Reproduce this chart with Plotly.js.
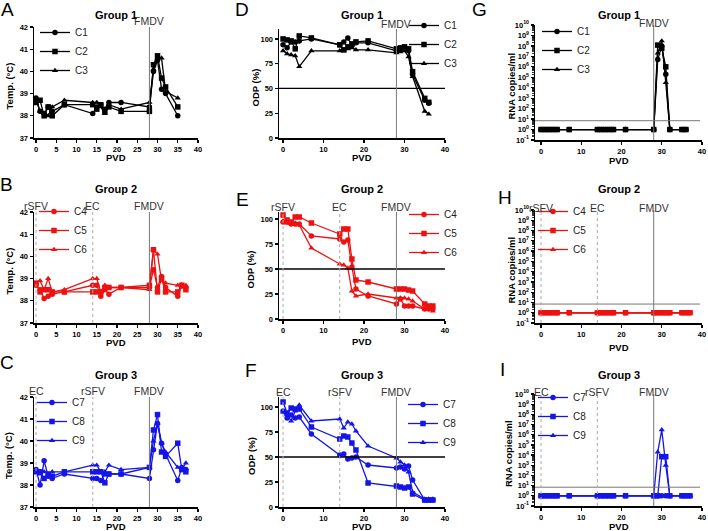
<!DOCTYPE html>
<html>
<head>
<meta charset="utf-8">
<script src="https://cdn.plot.ly/plotly-3.0.1.min.js"></script>
<style>
  html, body { margin: 0; padding: 0; background: #fff; }
  #chart { width: 708px; height: 531px; }
</style>
</head>
<body>
<div id="chart"></div>
<script>
// --- Data ---
const daysG1Temp = [0, 1, 2, 3, 4, 7, 14, 15, 16, 17, 18, 21, 28, 29, 30, 31, 32, 35];
const daysG1 = [0, 1, 2, 3, 4, 7, 14, 15, 16, 17, 18, 21, 28, 29, 30, 31, 32, 35, 36];
const daysG23 = [0, 1, 2, 3, 4, 7, 14, 15, 16, 17, 18, 21, 28, 29, 30, 31, 32, 35, 36, 37];

// Group 1
const tempC1 = [38.8, 38.2, 38.1, 38.4, 38.2, 38.5, 38.1, 38.4, 38.5, 38.3, 38.6, 38.6, 38.4, 40.0, 40.5, 39.2, 39.0, 38.0];
const tempC2 = [38.6, 38.7, 38.0, 38.4, 38.0, 38.5, 38.5, 38.3, 38.5, 38.2, 38.4, 38.2, 38.2, 40.3, 40.7, 39.7, 39.3, 38.4];
const tempC3 = [38.7, 38.2, 38.1, 38.0, 38.4, 38.7, 38.6, 38.6, 38.4, 38.1, 38.5, 38.3, 38.6, 40.1, 40.6, 40.6, 39.1, 38.8];
const odpC1 = [94, 91, 97, 97, 98, 100, 94, 97, 101, 93, 96, 96, 88, 89, 90, 88, 64, 38, 35];
const odpC2 = [100, 99, 98, 90, 103, 101, 94, 89, 92, 95, 97, 98, 90, 91, 92, 90, 67, 40, 36];
const odpC3 = [88, 85, 84, 83, 72, 88, 88, 88, 90, 91, 89, 89, 86, 87, 88, 82, 62, 27, 24];
const rnaC1 = [1, 1, 1, 1, 1, 1, 1, 1, 1, 1, 1, 1, 1, 5e6, 1e8, 2e5, 1, 1, 1];
const rnaC2 = [1, 1, 1, 1, 1, 1, 1, 1, 1, 1, 1, 1, 1, 1.2e8, 6e7, 1e6, 1, 1, 1];
const rnaC3 = [1, 1, 1, 1, 1, 1, 1, 1, 1, 1, 1, 1, 1, 2e7, 3e8, 3e4, 1, 1, 1];

// Group 2
const tempC4 = [38.7, 38.5, 38.1, 38.2, 38.3, 38.4, 38.7, 38.7, 38.2, 38.5, 38.3, 38.6, 38.6, 39.4, 38.6, 39.1, 38.6, 38.2, 38.7, 38.6];
const tempC5 = [38.8, 38.4, 38.5, 38.5, 38.4, 38.4, 38.4, 38.4, 38.4, 38.6, 38.6, 38.6, 38.7, 40.3, 38.4, 39.0, 38.4, 38.4, 38.7, 38.5];
const tempC6 = [38.8, 38.9, 38.5, 39.0, 38.4, 38.5, 39.0, 39.0, 38.4, 38.7, 38.6, 38.6, 38.5, 40.3, 40.1, 38.9, 38.8, 38.7, 38.6, 38.7];
const odpC4 = [97, 97, 95, 95, 95, 83, 80, 77, 79, 52, 30, 23, 15, 20, 13, 13, 13, 10, 10, 10];
const odpC5 = [104, 99, 97, 102, 102, 96, 85, 90, 90, 60, 39, 37, 30, 30, 30, 29, 28, 15, 13, 13];
const odpC6 = [98, 96, 96, 96, 94, 71, 55, 54, 51, 28, 23, 25, 21, 21, 21, 20, 18, 10, 10, 8];
const rnaC4 = [1, 1, 1, 1, 1, 1, 1, 1, 1, 1, 1, 1, 1, 1, 1, 1, 1, 1, 1, 1];
const rnaC5 = [1, 1, 1, 1, 1, 1, 1, 1, 1, 1, 1, 1, 1, 1, 1, 1, 1, 1, 1, 1];
const rnaC6 = [1, 1, 1, 1, 1, 1, 1, 1, 1, 1, 1, 1, 1, 1, 1, 1, 1, 1, 1, 1];

// Group 3
const tempC7 = [38.7, 38.0, 39.1, 38.4, 38.3, 38.5, 38.3, 38.3, 38.2, 38.5, 38.5, 38.5, 38.3, 39.6, 40.8, 39.9, 39.4, 38.2, 38.8, 38.7];
const tempC8 = [38.6, 38.6, 38.3, 38.5, 38.4, 38.6, 38.6, 38.6, 38.6, 38.1, 38.5, 38.5, 38.8, 40.5, 41.2, 39.5, 39.3, 39.9, 38.7, 38.6];
const tempC9 = [38.6, 38.5, 38.6, 38.5, 38.6, 38.6, 38.9, 38.9, 38.6, 38.6, 38.9, 38.7, 38.8, 40.0, 40.8, 39.9, 39.5, 38.8, 38.7, 39.0];
const odpC7 = [96, 89, 92, 89, 90, 73, 52, 53, 48, 49, 50, 42, 39, 40, 38, 41, 27, 7, 7, 7];
const odpC8 = [105, 94, 99, 98, 98, 80, 68, 71, 70, 64, 57, 24, 21, 20, 19, 20, 13, 7, 7, 7];
const odpC9 = [95, 93, 86, 96, 102, 86, 88, 79, 85, 83, 76, 61, 49, 45, 42, 35, 15, 8, 8, 8];
const rnaC7 = [1, 1, 1, 1, 1, 1, 1, 1, 1, 1, 1, 1, 1, 1, 1, 1, 1, 1, 1, 1];
const rnaC8 = [1, 1, 1, 1, 1, 1, 1, 1, 1, 1, 1, 1, 1, 1, 7e3, 7e3, 1, 1, 1, 1];
const rnaC9 = [1, 1, 1, 1, 1, 1, 1, 1, 1, 1, 1, 1, 1, 2e4, 3e6, 1e3, 1, 1, 1, 1];

// challenge / vaccination days and labels
const eventDaysG1 = [28];
const eventLabelsG1 = ['FMDV'];
const eventDaysG2 = [0, 14, 28];
const eventLabelsG2 = ['rSFV', 'EC', 'FMDV'];
const eventDaysG3 = [0, 14, 28];
const eventLabelsG3 = ['EC', 'rSFV', 'FMDV'];

const odpThreshold = 50;
const rnaThreshold = 1e7;
const rnaTickExp = [-1, 0, 1, 2, 3, 4, 5, 6, 7, 8, 9, 10];

// --- Styling / geometry ---
const W = 708, H = 531;
const FONT = 'Liberation Sans, Arial, sans-serif';
const SYMBOLS = ['circle', 'square', 'triangle-up'];

const groups = [
  { title: 'Group 1', color: '#000000', names: ['C1', 'C2', 'C3'], letters: ['A', 'D', 'G'],
    temp: [daysG1Temp, [tempC1, tempC2, tempC3]], odp: [daysG1, [odpC1, odpC2, odpC3]], rna: [daysG1, [rnaC1, rnaC2, rnaC3]],
    evDays: eventDaysG1, evLabels: eventLabelsG1 },
  { title: 'Group 2', color: '#ee1111', names: ['C4', 'C5', 'C6'], letters: ['B', 'E', 'H'],
    temp: [daysG23, [tempC4, tempC5, tempC6]], odp: [daysG23, [odpC4, odpC5, odpC6]], rna: [daysG23, [rnaC4, rnaC5, rnaC6]],
    evDays: eventDaysG2, evLabels: eventLabelsG2 },
  { title: 'Group 3', color: '#1515e8', names: ['C7', 'C8', 'C9'], letters: ['C', 'F', 'I'],
    temp: [daysG23, [tempC7, tempC8, tempC9]], odp: [daysG23, [odpC7, odpC8, odpC9]], rna: [daysG23, [rnaC7, rnaC8, rnaC9]],
    evDays: eventDaysG3, evLabels: eventLabelsG3 },
];

const KINDS = ['temp', 'odp', 'rna'];
const Y_TITLES = { temp: 'Temp. (°C)', odp: 'ODP (%)', rna: 'RNA copies/ml' };
const COL_PX = [[34, 198], [279, 445], [535, 702]];
const X_RANGE = [[-0.5, 40], [-1, 40], [-1.5, 40]];
const ROW_PX = {
  temp: [[27, 138], [212, 323], [397, 507]],
  odp: [[29, 138], [212, 319], [397, 507]],
  rna: [[25, 140], [210, 323], [394, 506]],
};
const ODP_TOP = [110, 107, 110];
const LEGEND_PX = [
  [[35, 18], [404, 11], [537, 17]],
  [[34, 197], [404, 200], [533, 197]],
  [[32, 388], [403, 390], [533, 383]],
];
const LETTER_PX = [
  [[7, 10], [242, 10], [479, 10]],
  [[6, 184], [243, 199], [505, 197]],
  [[7, 362], [251, 370], [502, 369]],
];
const TITLE_Y = [15, 189, 375];
const XTITLE_Y = [[157, 157, 160], [342, 341, 347], [526, 526, 526]];
const YTITLE_X = [[9, 255, 511], [9, 250, 511], [8, 251, 508]];
const EVENT_SHIFT = { temp: 6, odp: 5, rna: 2 };

const tickFont = { family: FONT, size: 7.5, color: '#000', weight: 'bold' };
const axTitleFont = { family: FONT, size: 9.5, color: '#000', weight: 'bold' };

const traces = [];
const layout = {
  width: W, height: H,
  margin: { l: 0, r: 0, t: 0, b: 0 },
  paper_bgcolor: '#fff',
  plot_bgcolor: 'rgba(0,0,0,0)',
  font: { family: FONT, color: '#000' },
  showlegend: true,
  shapes: [],
  annotations: [],
};

groups.forEach((g, row) => {
  KINDS.forEach((kind, col) => {
    const n = row * 3 + col + 1;
    const sfx = n === 1 ? '' : String(n);
    const xa = 'x' + sfx, ya = 'y' + sfx;
    const [days, series] = g[kind];
    const [px0, px1] = COL_PX[col];
    const [py0, py1] = ROW_PX[kind][row];

    series.forEach((vals, i) => {
      traces.push({
        x: days, y: vals,
        xaxis: xa, yaxis: ya,
        type: 'scatter', mode: 'lines+markers',
        name: g.names[i],
        legend: 'legend' + sfx,
        line: { color: g.color, width: 1.3 },
        marker: { symbol: SYMBOLS[i], size: 5.5, color: g.color },
        cliponaxis: false,
      });
    });

    layout['xaxis' + sfx] = {
      domain: [px0 / W, px1 / W],
      range: X_RANGE[col],
      anchor: ya,
      tick0: 0, dtick: col === 0 ? 5 : 10,
      ticks: 'outside', ticklen: 3, tickwidth: 1.3, tickcolor: '#000',
      showline: true, linewidth: 1.5, linecolor: '#000',
      showgrid: false, zeroline: false,
      tickfont: tickFont,
    };

    const yax = {
      domain: [1 - py1 / H, 1 - py0 / H],
      anchor: xa,
      ticks: 'outside', ticklen: 3, tickwidth: 1.3, tickcolor: '#000',
      showline: true, linewidth: 1.5, linecolor: '#000',
      showgrid: false, zeroline: false,
      tickfont: tickFont,
    };
    if (kind === 'temp') {
      Object.assign(yax, { range: [37, 42], tick0: 37, dtick: 1 });
    } else if (kind === 'odp') {
      Object.assign(yax, { range: [0, ODP_TOP[row]], tickmode: 'array', tickvals: [0, 25, 50, 75, 100] });
      layout.shapes.push({ type: 'line', xref: xa + ' domain', yref: ya, x0: 0, x1: 1,
        y0: odpThreshold, y1: odpThreshold, line: { color: '#000', width: 1.3 } });
    } else {
      Object.assign(yax, { type: 'log', range: [-1, 10], tickmode: 'array',
        tickvals: rnaTickExp.map(e => Math.pow(10, e)),
        ticktext: rnaTickExp.map(e => '10<sup>' + e + '</sup>'),
        minor: { ticks: 'outside', ticklen: 2, tickwidth: 0.8, tickcolor: '#000', dtick: 'D1' } });
      layout.shapes.push({ type: 'line', xref: xa, yref: ya, x0: -1.5, x1: 39.5,
        y0: Math.log10(rnaThreshold), y1: Math.log10(rnaThreshold), line: { color: '#777', width: 1 } });
    }
    layout['yaxis' + sfx] = yax;

    // axis titles
    layout.annotations.push({ xref: 'paper', yref: 'paper', x: (px0 + px1) / 2 / W, y: 1 - XTITLE_Y[row][col] / H,
      text: 'PVD', showarrow: false, xanchor: 'center', yanchor: 'middle', font: axTitleFont });
    layout.annotations.push({ xref: 'paper', yref: 'paper', x: YTITLE_X[row][col] / W, y: 1 - ((py0 + py1) / 2 + 4) / H,
      text: Y_TITLES[kind], textangle: -90, showarrow: false, xanchor: 'center', yanchor: 'middle', font: axTitleFont });

    // event lines + labels
    g.evDays.forEach((d, k) => {
      const isChallenge = g.evLabels[k] === 'FMDV';
      layout.shapes.push({ type: 'line', xref: xa, yref: ya + ' domain', x0: d, x1: d, y0: 0, y1: 1,
        line: isChallenge ? { color: '#777', width: 1 } : { color: '#aaa', width: 1, dash: 'dot' } });
      layout.annotations.push({ xref: xa, yref: ya + ' domain', x: d, y: 1, yshift: EVENT_SHIFT[kind],
        text: g.evLabels[k], showarrow: false, xanchor: 'center', yanchor: 'middle',
        font: { family: FONT, size: 10.5, color: '#333' } });
    });

    // group title
    layout.annotations.push({ xref: 'paper', yref: 'paper', x: (px0 + px1) / 2 / W, y: 1 - TITLE_Y[row] / H,
      text: g.title, showarrow: false, xanchor: 'center', yanchor: 'middle',
      font: { family: FONT, size: 11, color: '#000', weight: 'bold' } });

    // panel letter
    const [lx, ly] = LETTER_PX[row][col];
    layout.annotations.push({ xref: 'paper', yref: 'paper', x: lx / W, y: 1 - ly / H,
      text: g.letters[col], showarrow: false, xanchor: 'center', yanchor: 'middle',
      font: { family: FONT, size: 19, color: '#000' } });

    // legend
    const [gx, gy] = LEGEND_PX[row][col];
    layout['legend' + sfx] = {
      x: gx / W, y: 1 - gy / H, xanchor: 'left', yanchor: 'top',
      bgcolor: 'rgba(0,0,0,0)', borderwidth: 0,
      font: { family: FONT, size: 10, color: '#222' },
      tracegroupgap: 0,
    };
  });
});

Plotly.newPlot('chart', traces, layout, { displayModeBar: false, staticPlot: true });
</script>
</body>
</html>
